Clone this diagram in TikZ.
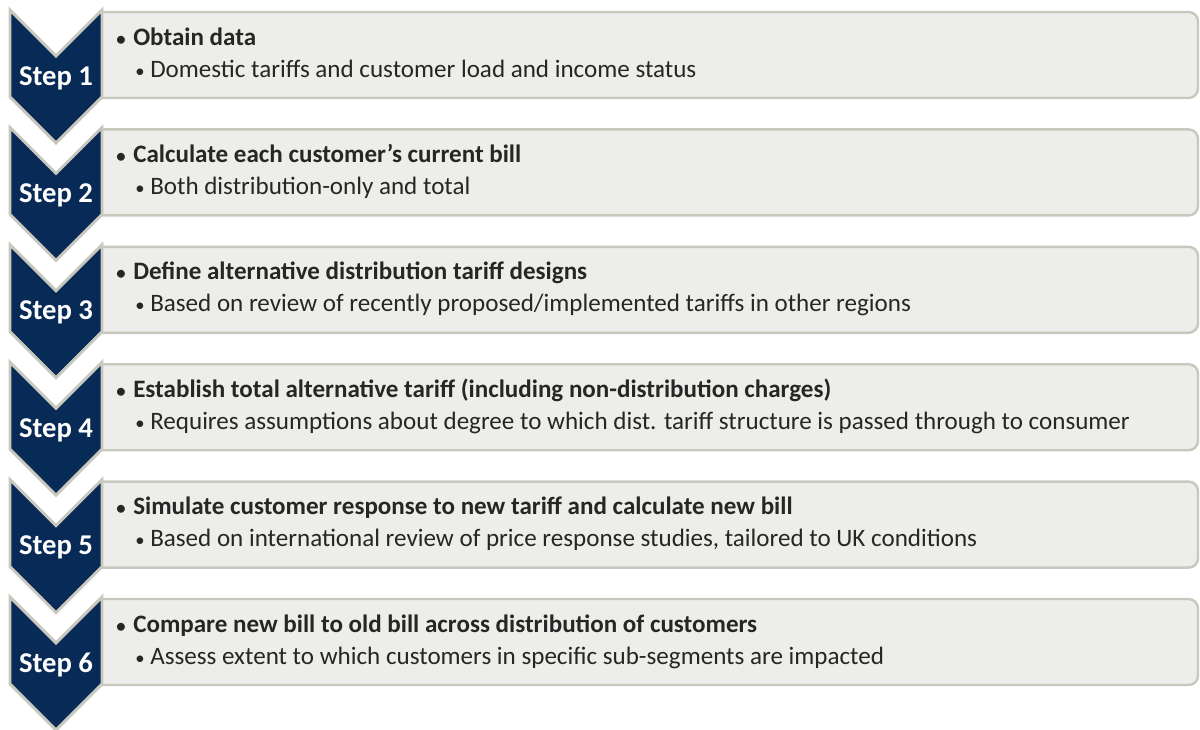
\documentclass[tikz,border=0pt]{standalone}
\usepackage{fontspec}
\setmainfont{Carlito}

\definecolor{stepnavy}{RGB}{8,42,86}
\definecolor{stepedge}{RGB}{200,200,190}
\definecolor{boxfill}{RGB}{237,237,233}
\definecolor{boxtext}{RGB}{38,38,38}

\newcommand{\stepdot}[1]{\makebox[#1][l]{\fontsize{14}{14}\selectfont•}}

\tikzset{
	chevron/.style = {draw = stepedge, line width = 2.2pt, fill = stepnavy, line join = miter},
	stepbox/.style = {draw = stepedge, line width = 1.8pt, fill = boxfill, rounded corners = 7pt},
	steplabel/.style = {anchor = base, inner sep = 0pt, text = white, font = \fontsize{21.5}{24}\selectfont\bfseries},
	headtext/.style = {anchor = base west, inner sep = 0pt, text = boxtext, font = \fontsize{18.8}{22}\selectfont\bfseries},
	subtext/.style = {anchor = base west, inner sep = 0pt, text = boxtext, font = \fontsize{18.8}{22}\selectfont}
}

\begin{document}
\begin{tikzpicture}[x = 0.75pt, y = -0.75pt]

\useasboundingbox (0, 0) rectangle (1200, 729);

\foreach \n/\head/\sub in {
	1/{Obtain data}/{Domestic tariffs and customer load and income status},
	2/{Calculate each customer’s current bill}/{Both distribution-only and total},
	3/{Define alternative distribution tariff designs}/{Based on review of recently proposed/implemented tariffs in other regions},
	4/{Establish total alternative tariff (including non-distribution charges)}/{Requires assumptions about degree to which dist. tariff structure is passed through to consumer},
	5/{Simulate customer response to new tariff and calculate new bill}/{Based on international review of price response studies, tailored to UK conditions},
	6/{Compare new bill to old bill across distribution of customers}/{Assess extent to which customers in specific sub-segments are impacted}} {
	\pgfmathsetmacro{\yc}{10 + (\n - 1) * 117.4}

	% box first, open on the left so the chevron closes it
	\draw[stepbox] (100, {\yc + 2}) -- (1198, {\yc + 2}) -- (1198, {\yc + 88}) -- (100, {\yc + 88});

	\draw[chevron] (10, \yc) -- (56, {\yc + 46}) -- (102, \yc) -- (102, {\yc + 87})
		-- (56, {\yc + 133}) -- (10, {\yc + 87}) -- cycle;

	\node[steplabel] (step\n) at (56, {\yc + 75}) {Step \n};
	\node[headtext] (head\n) at (116, {\yc + 35}) {\stepdot{12.75pt}\head};
	\node[subtext] (sub\n) at (135, {\yc + 67}) {\stepdot{11.25pt}\sub};
}

\end{tikzpicture}
\end{document}
